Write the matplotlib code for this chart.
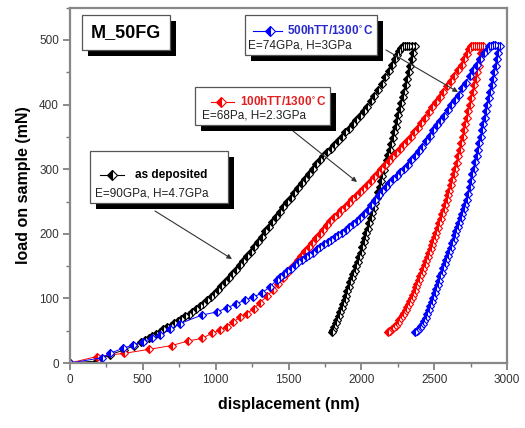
import matplotlib
matplotlib.use("Agg")
import matplotlib.pyplot as plt
from matplotlib.patches import Rectangle
from matplotlib.lines import Line2D
from matplotlib.ticker import MultipleLocator

plt.rcParams['font.family'] = ['Liberation Sans', 'DejaVu Sans']

# ---------------- data (displacement nm, load mN) ----------------
black_load_x = [0, 183, 274, 370, 440, 490, 515, 540, 565, 590, 615, 640, 665, 690, 715, 740,
                765, 790, 815, 840, 865, 890, 915, 940, 965, 990, 1015, 1040, 1065, 1090, 1115,
                1140, 1165, 1190, 1215, 1240, 1265, 1290, 1315, 1340, 1365, 1390, 1415, 1440,
                1465, 1490, 1515, 1540, 1565, 1590, 1615, 1640, 1665, 1690, 1715, 1740, 1765,
                1790, 1815, 1840, 1865, 1890, 1915, 1940, 1965, 1990, 2015, 2040, 2065, 2090,
                2115, 2140, 2165, 2190, 2210, 2230, 2245, 2260, 2275, 2285, 2300, 2315, 2330,
                2345, 2365]
black_load_y = [0, 3, 13, 20, 27, 32, 35, 38, 42, 45, 48, 52, 55, 58, 62, 65,
                68, 72, 75, 79, 83, 88, 92, 97, 102, 107, 113, 119, 125, 131, 137,
                144, 151, 158, 165, 172, 180, 187, 195, 204, 211, 219, 226, 234,
                241, 249, 256, 263, 271, 278, 285, 293, 300, 308, 314, 320, 326,
                331, 337, 343, 350, 357, 363, 370, 376, 383, 390, 397, 405, 413,
                422, 432, 442, 452, 461, 470, 477, 483, 488, 490, 491, 491, 491,
                491, 490]
black_unload_x = [2355, 2345, 2335, 2325, 2315, 2305, 2295, 2285, 2275, 2265, 2255, 2245,
                  2235, 2225, 2215, 2205, 2195, 2185, 2175, 2165, 2155, 2145, 2135, 2125, 2115,
                  2105, 2095, 2085, 2075, 2065, 2055, 2045, 2035, 2025, 2015, 2005, 1995, 1985,
                  1975, 1965, 1955, 1945, 1935, 1925, 1915, 1905, 1895, 1885, 1875, 1865, 1855,
                  1845, 1835, 1825, 1815, 1805, 1797]
black_unload_y = [480, 470, 460, 450, 440, 430, 420, 411, 402, 393, 384, 375,
                  366, 357, 348, 339, 330, 322, 314, 306, 298, 290, 281, 272, 264,
                  256, 248, 240, 232, 224, 216, 208, 201, 194, 187, 179, 171, 164,
                  157, 150, 143, 137, 131, 125, 118, 111, 104, 98, 92, 85, 79,
                  73, 67, 62, 56, 51, 48]

red_load_x = [0, 183, 372, 540, 697, 810, 905, 975, 1030, 1075, 1120, 1166, 1212, 1260, 1303,
              1350, 1395, 1430, 1463, 1488, 1513, 1538, 1563, 1588, 1613, 1638, 1663, 1688,
              1713, 1738, 1763, 1788, 1813, 1838, 1863, 1888, 1913, 1938, 1963, 1988, 2013,
              2038, 2063, 2088, 2113, 2138, 2163, 2188, 2213, 2238, 2263, 2288, 2313, 2338,
              2363, 2388, 2413, 2438, 2463, 2488, 2513, 2538, 2563, 2588, 2613, 2638, 2663,
              2688, 2708, 2725, 2740, 2750, 2765, 2780, 2795, 2810, 2822, 2833]
red_load_y = [0, 10, 15, 21, 27, 34, 38, 46, 51, 56, 63, 71, 76, 84, 93,
              103, 113, 122, 132, 139, 146, 152, 159, 166, 173, 179, 186, 193,
              200, 206, 213, 220, 226, 231, 237, 242, 248, 254, 259, 265, 270,
              276, 282, 288, 294, 300, 307, 313, 319, 325, 331, 338, 344, 350,
              357, 364, 372, 379, 388, 396, 404, 412, 420, 429, 437, 445, 454,
              462, 470, 478, 486, 490, 491, 491, 491, 491, 491, 490]
red_unload_x = [2824, 2815, 2805, 2795, 2785, 2775, 2765, 2755, 2745, 2735, 2725, 2715, 2705,
                2695, 2685, 2675, 2665, 2655, 2645, 2635, 2625, 2615, 2605, 2595, 2585, 2575,
                2565, 2555, 2545, 2535, 2525, 2515, 2505, 2495, 2485, 2475, 2465, 2455, 2445,
                2435, 2425, 2415, 2405, 2395, 2385, 2375, 2365, 2355, 2345, 2335, 2325, 2315,
                2305, 2295, 2285, 2275, 2262, 2250, 2237, 2225, 2212, 2200, 2190, 2181]
red_unload_y = [480, 470, 460, 450, 440, 430, 420, 410, 400, 390, 380, 370, 360,
                350, 340, 330, 320, 310, 301, 292, 283, 275, 267, 260, 252, 245,
                237, 230, 223, 216, 209, 202, 195, 189, 182, 176, 170, 164, 158,
                152, 146, 140, 134, 128, 122, 117, 111, 106, 101, 96, 91, 87,
                82, 78, 74, 70, 66, 62, 58, 55, 52, 50, 49, 48]

blue_load_x = [0, 217, 274, 366, 435, 503, 560, 617, 686, 755, 903, 1006, 1075, 1143, 1200,
               1256, 1315, 1372, 1418, 1443, 1468, 1493, 1518, 1543, 1568, 1593, 1618, 1643,
               1668, 1693, 1718, 1743, 1768, 1793, 1818, 1843, 1868, 1893, 1918, 1943, 1968,
               1993, 2018, 2043, 2068, 2093, 2118, 2143, 2168, 2193, 2218, 2243, 2268, 2293,
               2318, 2343, 2368, 2393, 2418, 2443, 2468, 2493, 2518, 2543, 2568, 2593, 2618,
               2643, 2668, 2693, 2718, 2743, 2768, 2793, 2818, 2843, 2860, 2875, 2890, 2905,
               2920, 2935, 2950]
blue_load_y = [0, 8, 15, 23, 28, 33, 38, 43, 52, 61, 74, 79, 85, 92, 97,
               102, 108, 118, 128, 133, 137, 142, 146, 151, 156, 160, 164, 167,
               171, 176, 180, 184, 187, 191, 195, 198, 202, 206, 210, 215, 220,
               225, 231, 237, 244, 252, 260, 267, 273, 279, 285, 290, 296, 301,
               307, 314, 321, 328, 335, 343, 351, 360, 368, 375, 383, 391, 399,
               407, 415, 425, 434, 444, 453, 462, 471, 480, 485, 490, 491, 492,
               492, 491, 490]
blue_unload_x = [2941, 2932, 2922, 2913, 2904, 2894, 2885, 2875, 2866, 2856, 2847, 2838, 2829,
                 2820, 2810, 2801, 2791, 2782, 2772, 2763, 2753, 2743, 2733, 2723, 2713, 2703,
                 2693, 2683, 2673, 2663, 2653, 2643, 2633, 2623, 2613, 2603, 2593, 2583, 2573,
                 2563, 2553, 2543, 2533, 2523, 2513, 2503, 2493, 2483, 2473, 2463, 2453, 2443,
                 2433, 2423, 2412, 2400, 2390, 2380, 2367]
blue_unload_y = [480, 470, 460, 450, 440, 430, 420, 410, 400, 390, 380, 370, 360,
                 350, 340, 330, 320, 311, 301, 292, 282, 272, 262, 252, 245, 238,
                 231, 224, 217, 211, 204, 198, 191, 185, 178, 172, 166, 160, 153,
                 147, 140, 134, 127, 121, 114, 108, 101, 95, 88, 82, 76, 70,
                 65, 61, 57, 54, 51, 50, 48]

series_colors = ['black', '#ff0000', '#0000ff']
label_lines = ['as deposited', '100hTT/1300$^{\\circ}$C', '500hTT/1300$^{\\circ}$C']
prop_lines = ['E=90GPa, H=4.7GPa', 'E=68Pa, H=2.3GPa', 'E=74GPa, H=3GPa']
sample_label = 'M_50FG'
x_label = 'displacement (nm)'
y_label = 'load on sample (mN)'

# ---------------- figure ----------------
W, H = 525, 428
fig = plt.figure(figsize=(W / 100, H / 100), dpi=100)
ax = fig.add_axes([70 / W, 1 - 363 / H, (507 - 70) / W, (363 - 7.7) / H])


def fx(x):
    return x / W


def fy(y):
    return 1 - y / H


mk = dict(marker='D', markersize=4.5, fillstyle='left', markerfacecoloralt='white',
          markeredgewidth=0.8, linewidth=0.7)

for (lx, ly, ux, uy), c in zip(
        [(black_load_x, black_load_y, black_unload_x, black_unload_y),
         (red_load_x, red_load_y, red_unload_x, red_unload_y),
         (blue_load_x, blue_load_y, blue_unload_x, blue_unload_y)], series_colors):
    ax.plot(lx + ux, ly + uy, color=c, markeredgecolor=c, markerfacecolor=c, **mk)

ax.set_xlim(0, 3000)
ax.set_ylim(0, 550)
ax.xaxis.set_major_locator(MultipleLocator(500))
ax.xaxis.set_minor_locator(MultipleLocator(250))
ax.yaxis.set_major_locator(MultipleLocator(100))
ax.yaxis.set_minor_locator(MultipleLocator(50))
ax.set_yticks([0, 100, 200, 300, 400, 500])
ax.tick_params(which='major', direction='out', length=5, width=1.2, color='#777777',
               labelsize=8.5, labelcolor='#333333', pad=3)
ax.tick_params(which='minor', direction='out', length=3, width=1.0, color='#777777')
for s in ax.spines.values():
    s.set_color('#888888')
    s.set_linewidth(1.6)
ax.set_xlabel(x_label, fontsize=11.5, fontweight='bold', labelpad=8)
ax.set_ylabel(y_label, fontsize=11.5, fontweight='bold', labelpad=6)


def box(x0, y0, x1, y1, off=6):
    fig.add_artist(Rectangle((fx(x0 + off), fy(y1 + off)), (x1 - x0) / W, (y1 - y0) / H,
                             transform=fig.transFigure, facecolor='black', edgecolor='none',
                             zorder=5))
    fig.add_artist(Rectangle((fx(x0), fy(y1)), (x1 - x0) / W, (y1 - y0) / H,
                             transform=fig.transFigure, facecolor='white', edgecolor='#555555',
                             linewidth=0.9, zorder=6))


# sample label box
box(82, 15, 170, 50)
fig.text(fx(126), fy(33), sample_label, fontsize=13, fontweight='bold', ha='center',
         va='center', zorder=7)

# legend boxes: (box, line x0, x1, marker x, line y, text x, line2 x, line2 y)
boxes = [
    ((90, 151, 228, 203), 100, 124, 112, 175, 135, 95, 193),
    ((195, 87, 330, 125), 211, 234, 221, 102, 240, 202, 116),
    ((245, 15, 377, 55), 253, 282, 270, 31, 287, 248, 45),
]
for i, (b, lx0, lx1, mx, ly, tx, t2x, t2y) in enumerate(boxes):
    c = series_colors[i]
    box(*b)
    fig.add_artist(Line2D([fx(lx0), fx(lx1)], [fy(ly), fy(ly)], transform=fig.transFigure,
                          color=c, linewidth=0.8, zorder=7))
    fig.add_artist(Line2D([fx(mx)], [fy(ly)], transform=fig.transFigure, color=c,
                          marker='D', markersize=5, fillstyle='left', markerfacecoloralt='white',
                          markeredgecolor=c, markerfacecolor=c, markeredgewidth=0.8, zorder=8))
    tc = {0: 'black', 1: '#e02020', 2: '#2a2acc'}[i]
    fig.text(fx(tx), fy(ly), label_lines[i], fontsize=8.5, fontweight='bold', color=tc,
             ha='left', va='center', zorder=8)
    fig.text(fx(t2x), fy(t2y), prop_lines[i], fontsize=8.5, color='#222222', ha='left',
             va='center', zorder=8)

# arrows
arrows = [((155, 211), (232, 259)), ((293, 131), (357, 182)), ((386, 50), (458, 92))]
for (sx, sy), (ex, ey) in arrows:
    ax.annotate('', xy=(fx(ex), fy(ey)), xytext=(fx(sx), fy(sy)), xycoords='figure fraction',
                textcoords='figure fraction',
                arrowprops=dict(arrowstyle='-|>', color='#333333', lw=0.8,
                                mutation_scale=7, shrinkA=0, shrinkB=0), zorder=9)

fig.savefig('out.png', dpi=100)
